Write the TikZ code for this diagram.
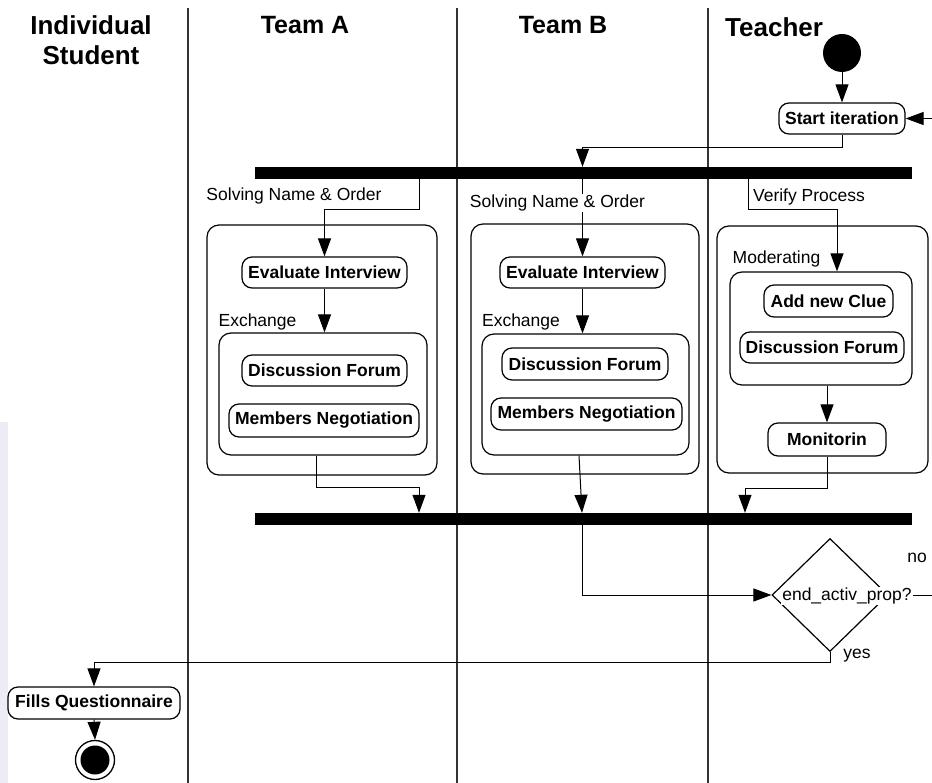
\documentclass[tikz,border=0pt]{standalone}
\usepackage{fontspec}
\setmainfont{Liberation Sans}
\usetikzlibrary{arrows.meta,shapes.geometric}
\definecolor{sidebar}{RGB}{236,236,246}
\begin{document}
\begin{tikzpicture}[x=1pt,y=-1pt,
  every node/.style={font=\fontsize{17.5}{20}\selectfont},
  act/.style={draw, rounded corners=10pt, fill=white, line width=1.2pt, inner sep=0pt,
    font=\bfseries\fontsize{17.5}{20}\selectfont},
  group/.style={draw, rounded corners=12pt, line width=1.2pt, inner sep=0pt},
  bar/.style={fill=black, inner sep=0pt, minimum width=657, minimum height=12},
  lbl/.style={inner sep=1pt, fill=white},
  head/.style={font=\bfseries\fontsize{25}{30}\selectfont, align=center, inner sep=0pt},
  flow/.style={line width=1pt, -{Triangle[length=18pt,width=13pt]}},
  lane/.style={line width=1.5pt, draw=black!80}]

% canvas
\useasboundingbox (0,0) rectangle (932,783);
\fill[white] (0,0) rectangle (932,783);
\fill[sidebar] (0,422) rectangle (8,783);

% swimlane separators
\draw[lane] (188,8) -- (188,783);
\draw[lane] (457,8) -- (457,783);
\draw[lane] (708,8) -- (708,783);

% lane headers
\node[head, font=\bfseries\fontsize{26}{30}\selectfont] (hStudent) at (91,40) {Individual\\Student};
\node[head] (hTeamA) at (305,25) {Team A};
\node[head] (hTeamB) at (563,25) {Team B};
\node[head, anchor=west, font=\bfseries\fontsize{26}{30}\selectfont] (hTeacher) at (725,27) {Teacher};

% initial node and first action
\node[circle, fill=black, minimum size=38, inner sep=0pt] (start) at (842,53) {};
\node[act, minimum width=126, minimum height=31] (startit) at (842,118.5) {Start iteration};

% fork / join bars
\node[bar] (bar1) at (583.5,173) {};
\node[bar] (bar2) at (583.5,519) {};

% Team A activities
\node[group, minimum width=230, minimum height=250] (outA) at (322,350) {};
\node[group, minimum width=208, minimum height=122] (exA) at (323,394) {};
\node[act, minimum width=165, minimum height=31] (eiA) at (324.5,272.5) {Evaluate Interview};
\node[act, minimum width=165, minimum height=31] (dfA) at (324.5,370.5) {Discussion Forum};
\node[act, minimum width=190, minimum height=33] (mnA) at (324,420.5) {Members Negotiation};

% Team B activities
\node[group, minimum width=228, minimum height=250] (outB) at (585,349) {};
\node[group, minimum width=207, minimum height=121] (exB) at (585.5,394.5) {};
\node[act, minimum width=165, minimum height=31] (eiB) at (582.5,272.5) {Evaluate Interview};
\node[act, minimum width=166, minimum height=32] (dfB) at (585,364) {Discussion Forum};
\node[act, minimum width=191, minimum height=32] (mnB) at (586.5,414) {Members Negotiation};

% Teacher activities
\node[group, minimum width=211, minimum height=247] (outT) at (822.5,349.5) {};
\node[group, minimum width=182, minimum height=113] (modT) at (821,328.5) {};
\node[act, minimum width=129, minimum height=32] (clue) at (828.5,301) {Add new Clue};
\node[act, minimum width=164, minimum height=31] (dfT) at (822,347.5) {Discussion Forum};
\node[act, minimum width=118, minimum height=33] (mon) at (827,439.5) {Monitorin};

% decision
\node[diamond, draw, line width=1.2pt, minimum width=116, minimum height=113, inner sep=0pt] (dec) at (830,595) {};

% student actions and final node
\node[act, minimum width=172, minimum height=32] (fills) at (94,703) {Fills Questionnaire};
\node[circle, draw, line width=1.3pt, minimum size=39, inner sep=0pt] (finish) at (95,760) {};
\node[circle, fill=black, minimum size=29, inner sep=0pt] (finishdot) at (finish) {};

% control flow
\draw[flow] (start) -- (startit);
\draw[flow] (startit.south) -- ++(0,13) -| (bar1.north -| eiB.north);

\draw[flow] (419,0 |- bar1.south) -- (419,210) -| (eiA.north);
\draw[flow] (eiA.south) -- (eiA.south |- exA.north);
\draw[flow] (316,0 |- exA.south) -- (316,487) -| (419,0 |- bar2.north);

\draw[flow] (eiB.north |- bar1.south) -- (eiB.north);
\draw[flow] (eiB.south) -- (eiB.south |- exB.north);
\draw[flow] (579,0 |- exB.south) -- (582,0 |- bar2.north);

\draw[flow] (748,0 |- bar1.south) -- (748,210) -| (837,0 |- modT.north);
\draw[flow] (mon.north |- modT.south) -- (mon.north);
\draw[flow] (mon.south) -- (827,488) -| (745,0 |- bar2.north);

\draw[flow] (582,0 |- bar2.south) |- (dec.west);
\draw[flow] (dec.east) -- (955,0 |- dec.east) |- (startit.east);
\draw[flow] (dec.south) -- (dec.south |- 0,662) -| (fills.north);
\draw[flow] (fills.south) -- (finish.north);

% guard and region labels
\node[lbl] (dectext) at (847,596) {end\_activ\_prop?};
\node[inner sep=0pt] (noLbl) at (917,558) {no};
\node[inner sep=0pt] (yesLbl) at (857,656) {yes};
\node[inner sep=0pt] (solveA) at (294,196) {Solving Name \& Order};
\node[lbl] (solveB) at (557.5,203) {Solving Name \& Order};
\node[inner sep=0pt] (verify) at (809,197) {Verify Process};
\node[inner sep=0pt] (exchA) at (257.5,322) {Exchange};
\node[inner sep=0pt] (exchB) at (521,322) {Exchange};
\node[inner sep=0pt] (moder) at (776.5,259) {Moderating};
\end{tikzpicture}
\end{document}
